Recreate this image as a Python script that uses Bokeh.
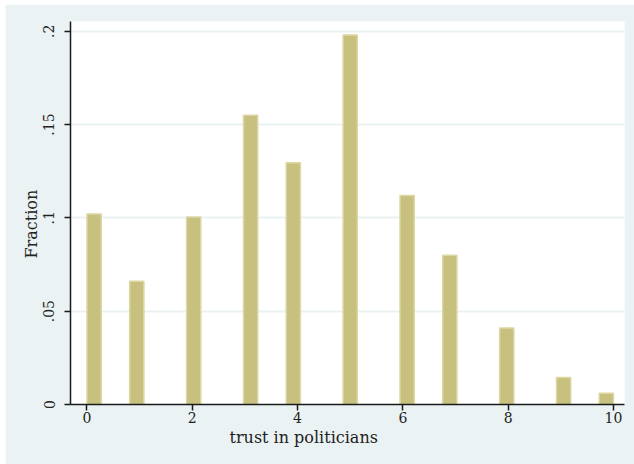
import math

from bokeh.embed import file_html
from bokeh.models import FixedTicker, Range1d, Title
from bokeh.plotting import figure
from bokeh.resources import INLINE

# Trust in politicians (0-10 scale), share of respondents per answer
trust_values = [0, 1, 2, 3, 4, 5, 6, 7, 8, 9, 10]
fractions = [0.102, 0.066, 0.1005, 0.155, 0.1295, 0.198, 0.112, 0.080, 0.041, 0.0145, 0.006]

x_ticks = [0, 2, 4, 6, 8, 10]
y_ticks = [0, 0.05, 0.1, 0.15, 0.2]
y_tick_labels = ["0", ".05", ".1", ".15", ".2"]

x_title = "trust in politicians"
y_title = "Fraction"

# Histogram binning: the 0-10 range is split into equal-width bins
n_bins = 37
lo, hi = 0.0, 10.0
bin_w = (hi - lo) / n_bins
bin_idx = [min(int(math.floor((v - lo) / bin_w + 1e-9)), n_bins - 1) for v in trust_values]
lefts = [lo + i * bin_w for i in bin_idx]
rights = [l + bin_w for l in lefts]

BG = "#EAF2F3"
SERIF = "DejaVu Serif"
INK = "#222222"

p = figure(
    width=629, height=460,
    output_backend="svg", toolbar_location=None,
    x_range=Range1d(-0.313, 10.21), y_range=Range1d(0, 0.2052),
    min_border_left=65, min_border_right=10, min_border_top=17, min_border_bottom=60,
    background_fill_color="white", border_fill_color=BG,
    outline_line_color=None,
)
p.margin = (4, 0, 0, 5)

p.quad(left=lefts, right=rights, bottom=0, top=fractions,
       fill_color="#C8C07E", line_color="#DCD7A3", line_width=1.5)

# Grid: horizontal lines only
p.xgrid.visible = False
p.ygrid.ticker = FixedTicker(ticks=y_ticks[1:])
p.ygrid.grid_line_color = BG
p.ygrid.grid_line_width = 2

for ax in (p.xaxis, p.yaxis):
    ax.axis_line_color = "#1a1a1a"
    ax.axis_line_width = 1.5
    ax.major_tick_line_color = "#1a1a1a"
    ax.major_tick_line_width = 1.5
    ax.major_tick_in = 0
    ax.major_tick_out = 6
    ax.minor_tick_line_color = None
    ax.major_label_text_font = SERIF
    ax.major_label_text_font_size = "14px"
    ax.major_label_text_color = INK

p.xaxis.ticker = FixedTicker(ticks=x_ticks)
p.xaxis.major_label_standoff = 1

p.yaxis.ticker = FixedTicker(ticks=y_ticks)
p.yaxis.major_label_overrides = {t: s for t, s in zip(y_ticks, y_tick_labels)}
p.yaxis.major_label_orientation = "vertical"
p.yaxis.major_label_standoff = 10

# Axis titles as side titles so they can sit off-centre
p.add_layout(Title(text=x_title, align="left", offset=159, standoff=0,
                   text_font=SERIF, text_font_size="16px", text_color=INK,
                   text_font_style="normal"), "below")
p.add_layout(Title(text=y_title, align="left", offset=146, standoff=0,
                   text_font=SERIF, text_font_size="16px", text_color=INK,
                   text_font_style="normal"), "left")

open("out.html", "w").write(file_html(p, INLINE))
